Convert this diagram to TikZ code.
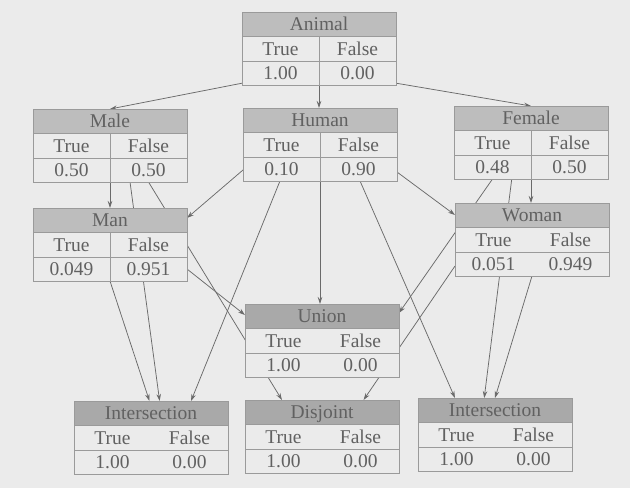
\documentclass[tikz,border=0pt]{standalone}
\usepackage{fontspec}
\setmainfont{Liberation Serif}
\usetikzlibrary{calc,arrows.meta}
\definecolor{bgcol}{HTML}{EBEBEB}
\definecolor{hdrA}{HTML}{BDBDBD}
\definecolor{hdrB}{HTML}{A9A9A9}
\definecolor{rulecol}{HTML}{9A9A9A}
\definecolor{txtcol}{HTML}{616161}
\definecolor{edgecol}{HTML}{6A6A6A}
\tikzset{
  cptbox/.style={rectangle, minimum width=154pt, minimum height=73pt, inner sep=0pt, outer sep=0pt, fill=bgcol},
  cptrule/.style={draw=rulecol, line width=0.6pt},
  hdrtxt/.style={anchor=base, inner sep=0pt, text=txtcol, font=\fontsize{19.5}{22}\selectfont},
  celltxt/.style={anchor=base, inner sep=0pt, text=txtcol, font=\fontsize{19.5}{22}\selectfont},
  link/.style={draw=edgecol, line width=0.75pt, -{Stealth[length=7pt,width=4.5pt]}},
}
\newcommand\cptable[7]{%
  \node[cptbox, anchor=north west] (#1) at (#2,#3) {};
  \fill[#5] (#1.north west) rectangle ($(#1.north east)+(0,-24.5pt)$);
  \draw[cptrule] ($(#1.north west)+(0,-24.5pt)$) -- ($(#1.north east)+(0,-24.5pt)$);
  \draw[cptrule] ($(#1.north west)+(0,-49pt)$) -- ($(#1.north east)+(0,-49pt)$);
  \draw[cptrule] (#1.north west) rectangle (#1.south east);
  \node[hdrtxt] (#1-title) at ($(#1.north)+(0,-18.5pt)$) {#4};
  \node[celltxt] (#1-t) at ($(#1.north west)+(38.5pt,-43pt)$) {True};
  \node[celltxt] (#1-f) at ($(#1.north east)+(-38.5pt,-43pt)$) {False};
  \node[celltxt] (#1-v1) at ($(#1.north west)+(38.5pt,-67pt)$) {#6};
  \node[celltxt] (#1-v2) at ($(#1.north east)+(-38.5pt,-67pt)$) {#7};
}
\newcommand\cptdiv[1]{\draw[cptrule] ($(#1.north)+(0,-24.5pt)$) -- (#1.south);}
\begin{document}
\begin{tikzpicture}[x=1pt,y=-1pt]
\fill[bgcol] (0,0) rectangle (630,488);
\useasboundingbox (0,0) rectangle (630,488);
% placement nodes (empty boxes first, so connectors can use their names)
\node[cptbox, anchor=north west] (animal) at (242,12) {};
\node[cptbox, anchor=north west] (male) at (33,109) {};
\node[cptbox, anchor=north west] (human) at (243,108) {};
\node[cptbox, anchor=north west] (female) at (454,106) {};
\node[cptbox, anchor=north west] (man) at (33,208) {};
\node[cptbox, anchor=north west] (woman) at (455,203) {};
\node[cptbox, anchor=north west] (union) at (245,304) {};
\node[cptbox, anchor=north west] (interL) at (74,401) {};
\node[cptbox, anchor=north west] (disjoint) at (245,400) {};
\node[cptbox, anchor=north west] (interR) at (418,398) {};
% connectors
\draw[link] ($(animal.south west)+(1pt,2pt)$) -- (male.north);
\draw[link] (animal.south) -- (animal.south |- human.north);
\draw[link] ($(animal.south east)+(-1pt,2pt)$) -- (female.north);
\draw[link] (male.south) -- (male.south |- man.north);
\draw[link] ($(male.south west)!0.63!(male.south east)$) -- ($(interL.north west)!0.556!(interL.north east)$);
\draw[link] ($(male.south west)!0.75!(male.south east)$) -- ($(disjoint.north west)!0.24!(disjoint.north east)$);
\draw[link] ($(human.south west)+(0,11pt)$) -- ($(man.north east)+(0,-10pt)$);
\draw[link] ($(human.south west)!0.24!(human.south east)$) -- ($(interL.north west)!0.76!(interL.north east)$);
\draw[link] (human.south) -- (human.south |- union.north);
\draw[link] ($(human.south west)!0.76!(human.south east)$) -- ($(interR.north west)!0.24!(interR.north east)$);
\draw[link] ($(human.south east)+(0,9pt)$) -- ($(woman.north west)+(0,-12pt)$);
\draw[link] (female.south) -- (female.south |- woman.north);
\draw[link] ($(female.south west)!0.25!(female.south east)$) -- ($(union.north east)+(0,-9pt)$);
\draw[link] ($(female.south west)!0.375!(female.south east)$) -- ($(interR.north west)!0.43!(interR.north east)$);
\draw[link] ($(man.south east)+(0,12pt)$) -- ($(union.north west)+(0,-11pt)$);
\draw[link] (man.south) -- ($(interL.north west)!0.49!(interL.north east)$);
\draw[link] ($(woman.south west)+(0,10pt)$) -- ($(disjoint.north west)!0.77!(disjoint.north east)$);
\draw[link] (woman.south) -- (interR.north);
% tables drawn over the connectors
\cptable{animal}{242}{12}{Animal}{hdrA}{1.00}{0.00}\cptdiv{animal}
\cptable{male}{33}{109}{Male}{hdrA}{0.50}{0.50}\cptdiv{male}
\cptable{human}{243}{108}{Human}{hdrA}{0.10}{0.90}\cptdiv{human}
\cptable{female}{454}{106}{Female}{hdrA}{0.48}{0.50}\cptdiv{female}
\cptable{man}{33}{208}{Man}{hdrA}{0.049}{0.951}\cptdiv{man}
\cptable{woman}{455}{203}{Woman}{hdrA}{0.051}{0.949}
\cptable{union}{245}{304}{Union}{hdrB}{1.00}{0.00}
\cptable{interL}{74}{401}{Intersection}{hdrB}{1.00}{0.00}
\cptable{disjoint}{245}{400}{Disjoint}{hdrB}{1.00}{0.00}
\cptable{interR}{418}{398}{Intersection}{hdrB}{1.00}{0.00}
\end{tikzpicture}
\end{document}
